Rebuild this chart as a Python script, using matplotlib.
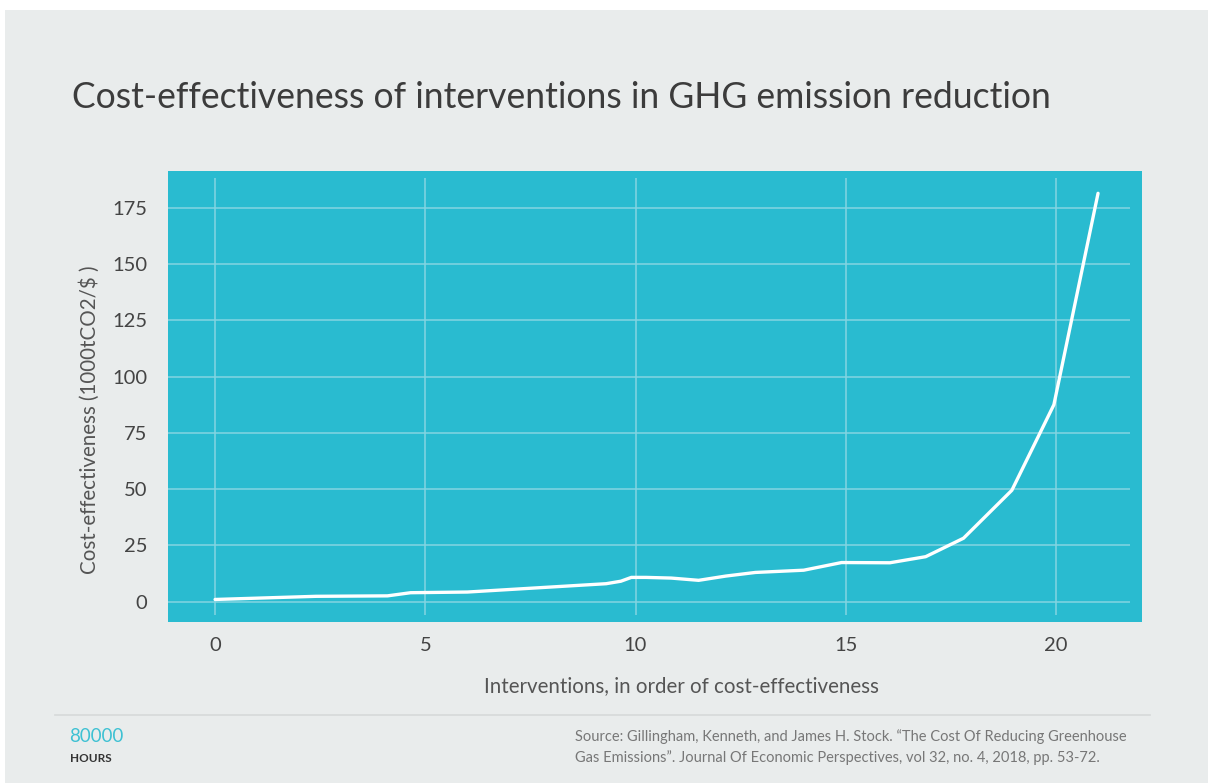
import matplotlib.pyplot as plt
from matplotlib.patches import Rectangle
from matplotlib.lines import Line2D

# values
interventions = [0, 2.4, 4.1, 4.65, 6.0, 9.3, 9.65, 9.9, 10.25, 10.85, 11.5,
                 12.15, 12.85, 14.0, 14.9, 16.05, 16.9, 17.8, 18.95, 19.95, 21.0]
effectiveness = [1.0, 2.4, 2.6, 4.0, 4.3, 8.0, 9.1, 10.8, 10.8, 10.5, 9.5,
                 11.4, 13.0, 14.0, 17.4, 17.3, 20.0, 28.2, 49.5, 87.5, 181.4]
x_ticks = [0, 5, 10, 15, 20]
y_ticks = [0, 25, 50, 75, 100, 125, 150, 175]

title = 'Cost-effectiveness of interventions in GHG emission reduction'
x_title = 'Interventions, in order of cost-effectiveness'
y_title = 'Cost-effectiveness (1000tCO2/$ )'
source = ('Source: Gillingham, Kenneth, and James H. Stock. \u201cThe Cost Of Reducing Greenhouse\n'
          'Gas Emissions\u201d. Journal Of Economic Perspectives, vol 32, no. 4, 2018, pp. 53-72.')

W, H = 1208, 783
teal = '#29bbd0'
bg = '#e9ecec'
plt.rcParams['font.family'] = ['Lato', 'DejaVu Sans']


def box(x0, y0, x1, y1):
    """pixel box (top-left origin) -> figure fraction rect"""
    return [x0 / W, 1 - y1 / H, (x1 - x0) / W, (y1 - y0) / H]


fig = plt.figure(figsize=(W / 100, H / 100), dpi=100, facecolor='white')

# light grey card behind everything
l, b, w, h = box(5, 10, W, H)
fig.patches.append(Rectangle((l, b), w, h, transform=fig.transFigure,
                             facecolor=bg, edgecolor='none', zorder=-3))
# teal plot background, a bit larger than the grid
l, b, w, h = box(168, 171, 1142, 622)
fig.patches.append(Rectangle((l, b), w, h, transform=fig.transFigure,
                             facecolor=teal, edgecolor='none', zorder=-2))

ax = fig.add_axes(box(168, 178, 1130, 615))
ax.set_zorder(1)
ax.set_facecolor('none')
ax.plot(interventions, effectiveness, color='white', lw=2.4,
        solid_joinstyle='round', solid_capstyle='round', zorder=3)
ax.set_xlim(-1.12, 21.76)
ax.set_ylim(-5.9, 188.2)
ax.set_xticks(x_ticks)
ax.set_yticks(y_ticks)
ax.grid(True, color='#84d5e2', lw=1.1)
ax.set_axisbelow(True)
for s in ax.spines.values():
    s.set_visible(False)
ax.tick_params(length=0, labelsize=14.5, labelcolor='#444444')
ax.tick_params(axis='y', pad=15)
ax.tick_params(axis='x', pad=16)

fig.text(72 / W, 1 - 97 / H, title, fontsize=25.6, color='#3c3c3c',
         va='center', ha='left')
fig.text(681 / W, 1 - 686 / H, x_title, fontsize=14.8, color='#555555',
         ha='center', va='center')
fig.text(90 / W, 1 - 420 / H, y_title, fontsize=14.8, color='#555555',
         ha='center', va='center', rotation=90)

# footer
fig.add_artist(Line2D([55 / W, 1150 / W], [1 - 715 / H, 1 - 715 / H],
                      color='#d6d9d9', lw=1.2))
fig.text(69 / W, 1 - 737 / H, '80000', fontsize=13.5, color='#3ec1d3',
         ha='left', va='center')
fig.text(70 / W, 1 - 758 / H, 'HOURS', fontsize=8.5, color='#333333',
         fontweight='bold', ha='left', va='center')
fig.text(575 / W, 1 - 747 / H, source, fontsize=10.5, color='#777777',
         ha='left', va='center', linespacing=1.45)

fig.savefig('out.png', dpi=100, facecolor='white')
